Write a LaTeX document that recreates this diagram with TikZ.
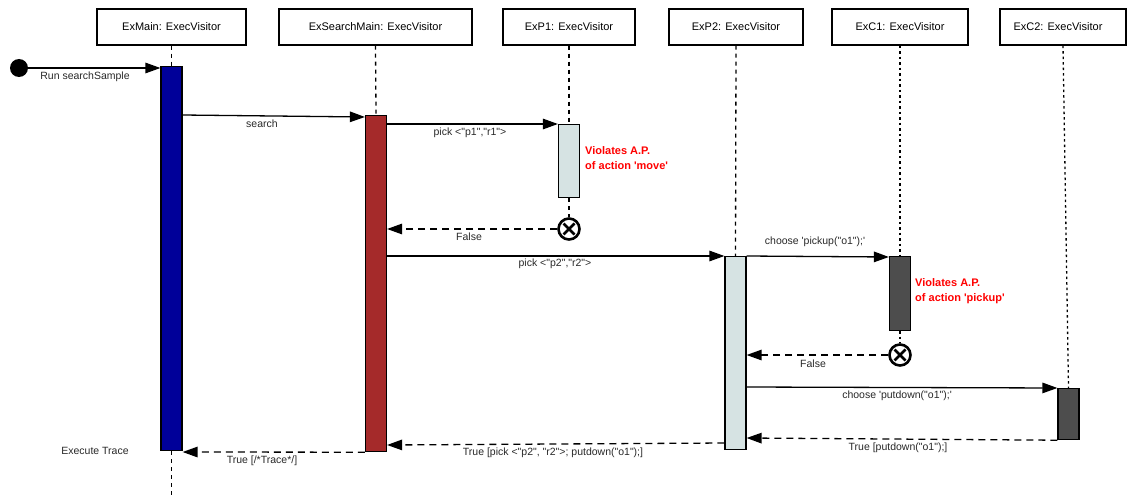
\documentclass[tikz,border=0pt]{standalone}
\usepackage{fontspec}
\setmainfont{Liberation Sans}[Ligatures=TeXOff]
\usetikzlibrary{arrows.meta}
\definecolor{mainblue}{RGB}{0,0,153}
\definecolor{searchred}{RGB}{165,42,42}
\definecolor{lightbar}{RGB}{214,227,227}
\definecolor{darkbar}{RGB}{77,77,77}
\definecolor{vred}{RGB}{255,0,0}
\definecolor{lbltext}{RGB}{40,40,40}
\begin{document}
\begin{tikzpicture}[x=1pt,y=-1pt,
  head/.style={draw, line width=1.2pt, minimum width=#1, minimum height=36pt, inner sep=0pt, font=\fontsize{11}{13}\selectfont},
  actbar/.style={draw, line width=1.2pt, minimum width=21pt, inner sep=0pt, anchor=north},
  life/.style={line width=1.3pt, dash pattern=on 4pt off 4pt},
  dlife/.style={line width=1.3pt, dash pattern=on 2.5pt off 3pt},
  msg/.style={line width=1.3pt, -{Triangle[length=15pt,width=10.5pt]}},
  ret/.style={msg, dash pattern=on 7pt off 5pt},
  lbl/.style={font=\fontsize{10.5}{12}\selectfont, text=lbltext, inner sep=1pt},
  warn/.style={font=\bfseries\fontsize{11}{15.5}\selectfont, text=vred, align=left, anchor=north west, inner sep=0pt},
  xcirc/.style={circle, draw, line width=2.6pt, minimum size=21pt, inner sep=0pt, fill=white}
]
\useasboundingbox (0,0) rectangle (1131,495);

% headers
\node[head=149pt] (hMain) at (171.5,27) {ExMain: ExecVisitor};
\node[head=193pt] (hSearch) at (375.5,27) {ExSearchMain: ExecVisitor};
\node[head=132pt] (hP1) at (569,27) {ExP1: ExecVisitor};
\node[head=134pt] (hP2) at (736,27) {ExP2: ExecVisitor};
\node[head=136pt] (hC1) at (900,27) {ExC1: ExecVisitor};
\node[head=126pt] (hC2) at (1063,27) {\raisebox{1.5pt}{\hspace*{-10pt}ExC2: ExecVisitor}};

% activation bars
\node[actbar, fill=mainblue, minimum height=384pt] (mainbar) at (171.5,66) {};
\node[actbar, fill=searchred, minimum height=336pt] (searchbar) at (376,115) {};
\node[actbar, fill=lightbar, minimum height=73pt] (p1bar) at (569,124) {};
\node[actbar, fill=lightbar, minimum height=193pt] (p2bar) at (735.5,256) {};
\node[actbar, fill=darkbar, minimum height=74pt] (c1bar) at (900,256) {};
\node[actbar, fill=darkbar, minimum height=51pt] (c2bar) at (1068.5,388) {};

% destruction marks
\node[xcirc] (x1) at (569,229) {};
\node[xcirc] (x2) at (900,355) {};
\foreach \n in {x1,x2}{
  \draw[line width=2.6pt] (\n.center) ++(-5.5,-5.5) -- ++(11,11);
  \draw[line width=2.6pt] (\n.center) ++(-5.5,5.5) -- ++(11,-11);
}

% lifelines
\coordinate (mainend) at (171.5,495);
\draw[life] (hMain.south) -- (mainbar.north);
\draw[life] (mainbar.south) -- (mainend);
\draw[life] (hSearch.south) -- (searchbar.north);
\draw[life] (hP1.south) -- (p1bar.north);
\draw[life] (p1bar.south) -- (x1.north);
\draw[life] (hP2.south) -- (p2bar.north);
\draw[dlife] (hC1.south) -- (c1bar.north);
\draw[dlife] (c1bar.south) -- (x2.north);
\draw[dlife] (hC2.south) -- (c2bar.north);

% start
\node[circle, fill=black, minimum size=18pt, inner sep=0pt] (start) at (19,68) {};

% messages
\draw[msg] (start.east) -- (mainbar.west |- start);
\node[lbl] at (85,77) {Run searchSample};

\draw[msg] (mainbar.east |- 0,115) -- (searchbar.west |- 0,117);
\node[lbl] at (262,124) {search};

\draw[msg] (searchbar.east |- 0,124) -- (p1bar.west |- 0,124);
\node[lbl] at (470,133) {pick <"p1","r1">};

\draw[ret] (x1.west) -- (searchbar.east |- x1);
\node[lbl] at (469,237) {False};

\draw[msg] (searchbar.east |- 0,256) -- (p2bar.west |- 0,256);
\node[lbl] at (555,264) {pick <"p2","r2">};

\draw[msg] (p2bar.east |- 0,256) -- (c1bar.west |- 0,257);
\node[lbl] at (815,242) {choose 'pickup("o1");'};

\draw[ret] (x2.west) -- (p2bar.east |- x2);
\node[lbl] at (813,364) {False};

\draw[msg] (p2bar.east |- 0,387) -- (c2bar.west |- 0,388);
\node[lbl] at (897,396) {choose 'putdown("o1");'};

\draw[ret] (c2bar.south west) -- (p2bar.east |- 0,438);
\node[lbl] at (898,448) {True [putdown("o1");]};

\draw[ret] (p2bar.west |- 0,443) -- (searchbar.east |- 0,445);
\node[lbl] at (553,453) {True [pick <"p2", "r2">; putdown("o1");]};

\draw[ret] (searchbar.south west) -- (mainbar.east |- 0,452);
\node[lbl] at (262,461) {True [/*Trace*/]};

\node[lbl] (exec) at (95,451) {Execute Trace};

% violation notes
\node[warn] (w1) at (585,146) {Violates A.P.\\of action 'move'};
\node[warn] (w2) at (915,278) {Violates A.P.\\of action 'pickup'};
\end{tikzpicture}
\end{document}
